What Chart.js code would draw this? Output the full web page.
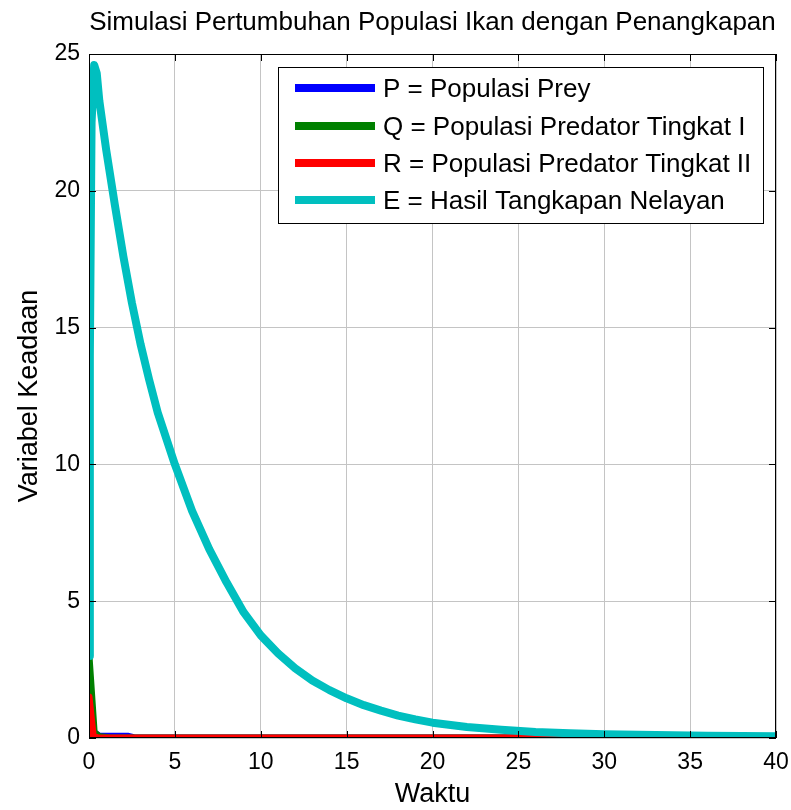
<!DOCTYPE html>
<html>
<head>
<meta charset="utf-8">
<script src="https://cdn.jsdelivr.net/npm/chart.js@4.4.0/dist/chart.umd.min.js"></script>
<style>
  html, body { margin: 0; padding: 0; background: #fff; }
  #wrap { width: 791px; height: 810px; }
</style>
</head>
<body>
<div id="wrap"><canvas id="c" width="791" height="810"></canvas></div>
<script>
// values
const chartTitle = 'Simulasi Pertumbuhan Populasi Ikan dengan Penangkapan';
const xTitle = 'Waktu';
const yTitle = 'Variabel Keadaan';

const seriesLabels = [
    'P = Populasi Prey',
    'Q = Populasi Predator Tingkat I',
    'R = Populasi Predator Tingkat II',
    'E = Hasil Tangkapan Nelayan'
];
const seriesColors = ['#0000ff', '#008000', '#ff0000', '#00bfbf'];

const tP = [0, 0.3, 0.6, 1.2, 2.3, 2.6, 40];
const P  = [1.0, 0.2, 0.06, 0.06, 0.06, 0.01, 0];

const tQ = [0, 0.3, 0.6, 1.2, 40];
const Q  = [3.0, 0.2, 0.05, 0.01, 0];

const tR = [0, 0.25, 0.5, 40];
const R  = [1.5, 0.05, 0.01, 0];

const tE = [0, 0.05, 0.15, 0.3, 0.45, 0.6, 1, 1.5, 2, 2.5, 3, 3.5, 4, 5, 6, 7, 8, 9, 10,
            11, 12, 13, 14, 15, 16, 17, 18, 19, 20, 22, 24, 26, 28, 30, 33, 36, 40];
const E  = [3.0, 14, 22.5, 24.6, 24.3, 23.3, 21.5, 19.5, 17.6, 15.9, 14.4, 13.1, 11.9, 10.0, 8.3, 6.9, 5.7, 4.6, 3.75,
            3.1, 2.55, 2.1, 1.75, 1.45, 1.2, 1.0, 0.82, 0.68, 0.56, 0.4, 0.3, 0.22, 0.17, 0.14, 0.11, 0.08, 0.06];

const xTicks = [0, 5, 10, 15, 20, 25, 30, 35, 40];
const yTicks = [0, 5, 10, 15, 20, 25];

const FONT = '"Liberation Sans", Arial, Helvetica, sans-serif';

function pts(t, v) {
    return t.map((x, i) => ({ x: x, y: v[i] }));
}

const series = [[tP, P], [tQ, Q], [tR, R], [tE, E]];
const datasets = series.map((s, i) => ({
    label: seriesLabels[i],
    data: pts(s[0], s[1]),
    borderColor: seriesColors[i],
    backgroundColor: seriesColors[i],
    borderWidth: i === 3 ? 8 : 7,
    pointRadius: 0,
    tension: 0,
    borderJoinStyle: 'round',
    borderCapStyle: 'round',
    order: 3 - i   // later series on top, like matlab
}));

// matlab style: frame, inward ticks, title, axis labels, boxed legend
const matlabAxes = {
    id: 'matlabAxes',
    afterDraw(chart) {
        const ctx = chart.ctx;
        const a = chart.chartArea;
        const xs = chart.scales.x, ys = chart.scales.y;
        ctx.save();
        ctx.strokeStyle = '#000';
        ctx.lineWidth = 1;
        ctx.strokeRect(a.left + 0.5, a.top + 0.5, a.right - a.left - 1, a.bottom - a.top - 1);
        const tl = 7;
        ctx.beginPath();
        xTicks.forEach(v => {
            const px = Math.round(xs.getPixelForValue(v)) + 0.5;
            ctx.moveTo(px, a.bottom); ctx.lineTo(px, a.bottom - tl);
            ctx.moveTo(px, a.top); ctx.lineTo(px, a.top + tl);
        });
        yTicks.forEach(v => {
            const py = Math.round(ys.getPixelForValue(v)) + 0.5;
            ctx.moveTo(a.left, py); ctx.lineTo(a.left + tl, py);
            ctx.moveTo(a.right, py); ctx.lineTo(a.right - tl, py);
        });
        ctx.stroke();

        ctx.fillStyle = '#000';
        ctx.textAlign = 'center';
        ctx.textBaseline = 'middle';
        ctx.font = '26px ' + FONT;
        ctx.fillText(chartTitle, (a.left + a.right) / 2, 23);
        ctx.font = '27px ' + FONT;
        ctx.fillText(xTitle, (a.left + a.right) / 2, 795);
        ctx.save();
        ctx.translate(30, (a.top + a.bottom) / 2);
        ctx.rotate(-Math.PI / 2);
        ctx.fillText(yTitle, 0, 0);
        ctx.restore();

        // legend box
        const lx = 278, ly = 67, lw = 485, lh = 156;
        ctx.fillStyle = '#fff';
        ctx.fillRect(lx, ly, lw, lh);
        ctx.strokeStyle = '#000';
        ctx.strokeRect(lx + 0.5, ly + 0.5, lw, lh);
        const rows = [88, 126, 163, 200];
        ctx.textAlign = 'left';
        ctx.font = '26px ' + FONT;
        chart.data.datasets.forEach((d, i) => {
            ctx.strokeStyle = d.borderColor;
            ctx.lineWidth = 8;
            ctx.beginPath();
            ctx.moveTo(295, rows[i]); ctx.lineTo(375, rows[i]);
            ctx.stroke();
            ctx.fillStyle = '#000';
            ctx.fillText(d.label, 383, rows[i] + 2);
        });
        ctx.restore();
    }
};

new Chart(document.getElementById('c'), {
    type: 'line',
    data: { datasets: datasets },
    options: {
        responsive: false,
        animation: false,
        layout: { padding: { top: 54, right: 15, left: 0, bottom: 0 } },
        plugins: {
            legend: { display: false },
            tooltip: { enabled: false },
            title: { display: false }
        },
        scales: {
            x: {
                type: 'linear',
                min: 0, max: 40,
                afterFit: s => { s.height = 72; s.paddingLeft = 0; s.paddingRight = 0; },
                afterBuildTicks: s => { s.ticks = xTicks.map(v => ({ value: v })); },
                grid: { color: '#c4c4c4', drawTicks: false },
                border: { display: false },
                ticks: { color: '#000', padding: 11, font: { family: FONT, size: 23 } }
            },
            y: {
                type: 'linear',
                min: 0, max: 25,
                afterFit: s => { s.width = 89; s.paddingTop = 0; s.paddingBottom = 0; },
                afterBuildTicks: s => { s.ticks = yTicks.map(v => ({ value: v })); },
                grid: { color: '#c4c4c4', drawTicks: false },
                border: { display: false },
                ticks: { color: '#000', padding: 9, font: { family: FONT, size: 23 } }
            }
        }
    },
    plugins: [matlabAxes]
});
</script>
</body>
</html>
